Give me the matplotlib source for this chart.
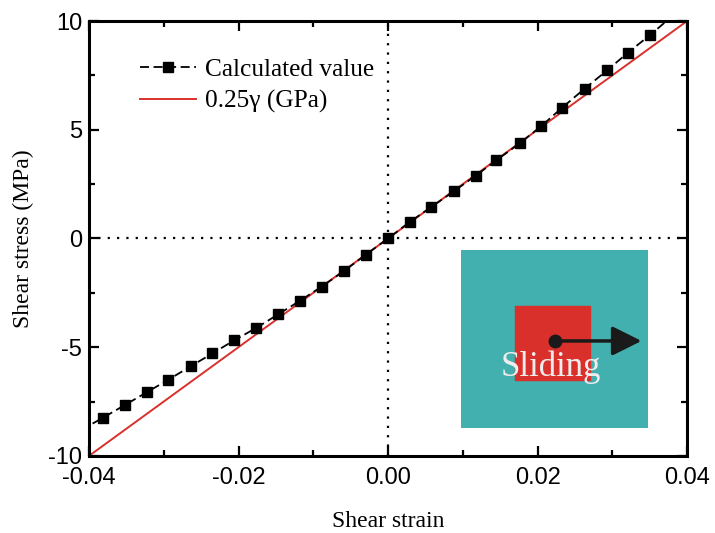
import numpy as np
import matplotlib
matplotlib.use("Agg")
import matplotlib.pyplot as plt
from matplotlib.patches import Rectangle, FancyArrowPatch
from matplotlib.ticker import MultipleLocator, FuncFormatter

plt.rcParams["font.family"] = ["Liberation Serif", "DejaVu Serif"]

# values
strain = [-0.0411, -0.0381, -0.0352, -0.0323, -0.0294, -0.0264, -0.0235, -0.0206,
          -0.0176, -0.0147, -0.0118, -0.0089, -0.0059, -0.0030, 0.0,
          0.0029, 0.0058, 0.0088, 0.0117, 0.0145, 0.0176, 0.0205, 0.0233,
          0.0263, 0.0293, 0.0321, 0.0351, 0.0381]
stress = [-8.82, -8.24, -7.66, -7.08, -6.50, -5.88, -5.29, -4.69,
          -4.11, -3.49, -2.87, -2.22, -1.50, -0.75, 0.0,
          0.76, 1.45, 2.17, 2.88, 3.60, 4.37, 5.17, 6.02,
          6.89, 7.73, 8.55, 9.37, 10.25]
modulus = 0.25  # GPa
fit_x = [-0.04, 0.04]

fig = plt.figure(figsize=(7.15, 5.33), dpi=100)
ax = fig.add_axes([0.1245, 0.1447, 0.8365, 0.8159])

ax.axvline(0, color="black", linestyle=(0, (1, 3.2)), lw=1.6, zorder=1)
ax.axhline(0, color="black", linestyle=(0, (1, 3.2)), lw=1.6, zorder=1)

ax.plot(fit_x, [modulus * 1000 * v for v in fit_x], color="#d9302c", lw=1.4,
        label="0.25\u03b3 (GPa)", zorder=2)
ax.plot(strain, stress, color="black", linestyle=(0, (5, 2.5)), lw=1.3,
        marker="s", markersize=7, label="Calculated value", zorder=3)

ax.set_xlim(-0.04, 0.04)
ax.set_ylim(-10, 10)
ax.xaxis.set_major_locator(MultipleLocator(0.02))
ax.xaxis.set_minor_locator(MultipleLocator(0.01))
ax.yaxis.set_major_locator(MultipleLocator(5))
ax.yaxis.set_minor_locator(MultipleLocator(2.5))
ax.xaxis.set_major_formatter(FuncFormatter(lambda v, p: f"{v:.2f}".replace("-0.00", "0.00")))
ax.yaxis.set_major_formatter(FuncFormatter(lambda v, p: f"{v:.0f}"))
ax.tick_params(which="both", direction="in", top=True, right=True, width=1.6)
ax.tick_params(which="major", length=7, labelsize=17)
ax.tick_params(which="minor", length=4)
ax.tick_params(axis="y", pad=5)
ax.tick_params(axis="x", pad=8)
for lab in ax.get_xticklabels() + ax.get_yticklabels():
    lab.set_family("Liberation Sans")
for s in ax.spines.values():
    s.set_linewidth(2.2)

ax.set_xlabel("Shear strain", fontsize=17, labelpad=16)
ax.set_ylabel("Shear stress (MPa)", fontsize=17, labelpad=10)

handles, labels = ax.get_legend_handles_labels()
ax.legend(handles[::-1], labels[::-1], loc="upper left", frameon=False, fontsize=18.3,
          bbox_to_anchor=(0.085, 0.915), borderaxespad=0, borderpad=0,
          handlelength=2.2, labelspacing=0.36, handletextpad=0.35)

# inset sketch
ins = fig.add_axes([0.6448, 0.197, 0.2615, 0.334])
ins.set_xlim(0, 1)
ins.set_ylim(0, 1)
ins.axis("off")
ins.add_patch(Rectangle((0, 0), 1, 1, color="#42b0ae"))
ins.add_patch(Rectangle((0.289, 0.27), 0.401, 0.415, color="#d9302c"))
ins.add_patch(FancyArrowPatch((0.503, 0.489), (0.98, 0.489),
                              arrowstyle="-|>,head_length=0.6,head_width=0.3",
                              mutation_scale=30, color="#1a1a1a", lw=2.5))
ins.plot([0.503], [0.489], "o", color="#1a1a1a", markersize=9)
ins.text(0.48, 0.34, "Sliding", color="#f0ecec", fontsize=25, ha="center", va="center")

fig.savefig("out.png", dpi=100)
